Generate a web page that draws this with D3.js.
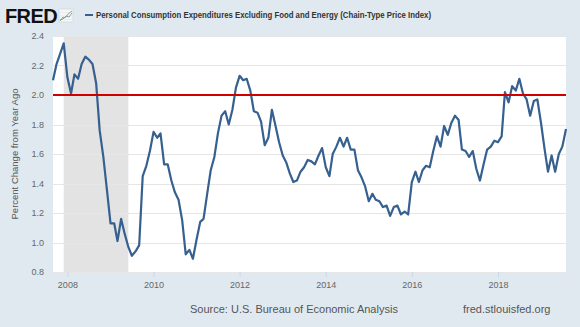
<!DOCTYPE html>
<html>
<head>
<meta charset="utf-8">
<script src="https://cdn.jsdelivr.net/npm/d3@7"></script>
<style>
  body { margin: 0; background: #e1e9f0; }
  svg { display: block; font-family: "Liberation Sans", Arial, sans-serif; }
</style>
</head>
<body>
<svg id="chart"></svg>
<script>
// monthly series, first observation Sep 2007
const startMonth = "2007-09";
const pceCore = [
  2.10, 2.21, 2.28, 2.35, 2.12, 2.01, 2.14, 2.11, 2.21, 2.26, 2.24, 2.21,
  2.08, 1.76, 1.58, 1.36, 1.13, 1.13, 1.01, 1.16, 1.06, 0.97, 0.91, 0.94,
  0.98, 1.45, 1.52, 1.62, 1.75, 1.71, 1.74, 1.53, 1.53, 1.42, 1.34, 1.29,
  1.15, 0.92, 0.95, 0.89, 1.02, 1.14, 1.16, 1.33, 1.49, 1.58, 1.74, 1.86,
  1.89, 1.80, 1.90, 2.05, 2.13, 2.10, 2.11, 2.03, 1.89, 1.88, 1.82, 1.66,
  1.71, 1.90, 1.79, 1.68, 1.59, 1.54, 1.47, 1.41, 1.42, 1.48, 1.51, 1.56,
  1.55, 1.53, 1.59, 1.64, 1.51, 1.45, 1.60, 1.65, 1.71, 1.65, 1.71, 1.63,
  1.63, 1.49, 1.44, 1.38, 1.28, 1.33, 1.29, 1.28, 1.24, 1.25, 1.18, 1.24,
  1.25, 1.19, 1.21, 1.19, 1.41, 1.48, 1.41, 1.49, 1.52, 1.51, 1.62, 1.72,
  1.65, 1.79, 1.73, 1.81, 1.86, 1.83, 1.63, 1.62, 1.58, 1.62, 1.50, 1.42,
  1.53, 1.63, 1.65, 1.69, 1.68, 1.72, 2.02, 1.95, 2.06, 2.03, 2.11, 2.01,
  1.97, 1.86, 1.96, 1.97, 1.81, 1.63, 1.48, 1.59, 1.48, 1.60, 1.65, 1.77
];
const recession = ["2007-12", "2009-06"];
const targetRate = 2.0;
const yTicks = [0.8, 1.0, 1.2, 1.4, 1.6, 1.8, 2.0, 2.2, 2.4];
const xTickYears = [2008, 2010, 2012, 2014, 2016, 2018];

const titleText = "Personal Consumption Expenditures Excluding Food and Energy (Chain-Type Price Index)";
const yAxisTitle = "Percent Change from Year Ago";
const sourceText = "Source: U.S. Bureau of Economic Analysis";
const siteText = "fred.stlouisfed.org";

const width = 580, height = 327;
const margin = { top: 36, right: 14, bottom: 55, left: 53 };

const parseMonth = d3.timeParse("%Y-%m");
const t0 = parseMonth(startMonth);
const series = pceCore.map((v, i) => ({ date: d3.timeMonth.offset(t0, i), value: v }));

const svg = d3.select("#chart").attr("width", width).attr("height", height);

const x = d3.scaleTime()
  .domain(d3.extent(series, d => d.date))
  .range([margin.left, width - margin.right]);
const y = d3.scaleLinear()
  .domain([0.8, 2.4])
  .range([height - margin.bottom, margin.top]);

// plot background
svg.append("rect")
  .attr("x", margin.left).attr("y", margin.top)
  .attr("width", width - margin.left - margin.right)
  .attr("height", height - margin.top - margin.bottom)
  .attr("fill", "#fff");

// recession shading
svg.append("rect")
  .attr("x", x(parseMonth(recession[0])))
  .attr("y", margin.top)
  .attr("width", x(parseMonth(recession[1])) - x(parseMonth(recession[0])))
  .attr("height", height - margin.top - margin.bottom)
  .attr("fill", "#e3e3e3");

// horizontal grid
svg.append("g")
  .selectAll("line")
  .data(yTicks)
  .join("line")
  .attr("x1", margin.left).attr("x2", width - margin.right)
  .attr("y1", d => Math.round(y(d)) + 0.5).attr("y2", d => Math.round(y(d)) + 0.5)
  .attr("stroke", "#e6e6e6");

// y axis labels
const yAxis = d3.axisLeft(y).tickValues(yTicks).tickFormat(d3.format(".1f")).tickSize(0).tickPadding(9);
svg.append("g")
  .attr("transform", `translate(${margin.left},0)`)
  .call(yAxis)
  .call(g => g.select(".domain").remove())
  .call(g => g.selectAll("text").attr("fill", "#666").style("font-size", "9px")
    .style("font-family", "Liberation Sans, Arial, sans-serif"));

// x axis
const xAxis = d3.axisBottom(x)
  .tickValues(xTickYears.map(yr => new Date(yr, 0, 1)))
  .tickFormat(d3.timeFormat("%Y"))
  .tickSize(5).tickPadding(5);
svg.append("g")
  .attr("transform", `translate(0,${height - margin.bottom})`)
  .call(xAxis)
  .call(g => g.select(".domain").remove())
  .call(g => g.selectAll("line").attr("stroke", "#ccd6eb"))
  .call(g => g.selectAll("text").attr("fill", "#666").style("font-size", "9px")
    .style("font-family", "Liberation Sans, Arial, sans-serif"));

// the series line
const line = d3.line().x(d => x(d.date)).y(d => y(d.value));
svg.append("path")
  .datum(series)
  .attr("d", line)
  .attr("fill", "none")
  .attr("stroke", "#35608f")
  .attr("stroke-width", 2.2)
  .attr("stroke-linejoin", "round");

// 2 percent reference line
svg.append("line")
  .attr("x1", margin.left).attr("x2", width - margin.right)
  .attr("y1", y(targetRate)).attr("y2", y(targetRate))
  .attr("stroke", "#d00000")
  .attr("stroke-width", 2.2);

// y axis title
svg.append("text")
  .attr("transform", `translate(18,${(margin.top + height - margin.bottom) / 2}) rotate(-90)`)
  .attr("text-anchor", "middle")
  .attr("fill", "#555")
  .style("font-size", "9.5px")
  .text(yAxisTitle);

// header: logo, icon, legend
const header = svg.append("g");
header.append("text")
  .attr("x", 5).attr("y", 23)
  .attr("fill", "#111")
  .style("font-size", "20px")
  .style("font-weight", "bold")
  .style("letter-spacing", "-0.6px")
  .text("FRED");

const icon = header.append("g").attr("transform", "translate(59,9)");
icon.append("rect").attr("width", 14).attr("height", 13).attr("fill", "#f4f6f8").attr("stroke", "#c9d3dc").attr("stroke-width", 0.6);
[3.5, 7, 10.5].forEach(v => {
  icon.append("line").attr("x1", 0).attr("x2", 14).attr("y1", v).attr("y2", v).attr("stroke", "#dde3e8").attr("stroke-width", 0.5);
});
icon.append("path").attr("d", "M1,12 L4,8 L6,9 L9,5 L13,2").attr("fill", "none").attr("stroke", "#8fb35a").attr("stroke-width", 1);
icon.append("path").attr("d", "M1,11 L4,10 L7,7 L10,8 L13,4").attr("fill", "none").attr("stroke", "#7d9fc4").attr("stroke-width", 1);

header.append("line")
  .attr("x1", 85).attr("x2", 93).attr("y1", 15).attr("y2", 15)
  .attr("stroke", "#35608f").attr("stroke-width", 2);
header.append("text")
  .attr("x", 96).attr("y", 18)
  .attr("fill", "#333")
  .style("font-size", "8.6px")
  .style("font-weight", "bold")
  .attr("textLength", 335)
  .attr("lengthAdjust", "spacingAndGlyphs")
  .text(titleText);

// footer
svg.append("text")
  .attr("x", 190).attr("y", 313)
  .attr("fill", "#555")
  .style("font-size", "11px")
  .text(sourceText);
svg.append("text")
  .attr("x", 463).attr("y", 313)
  .attr("fill", "#555")
  .style("font-size", "11px")
  .text(siteText);
</script>
</body>
</html>
